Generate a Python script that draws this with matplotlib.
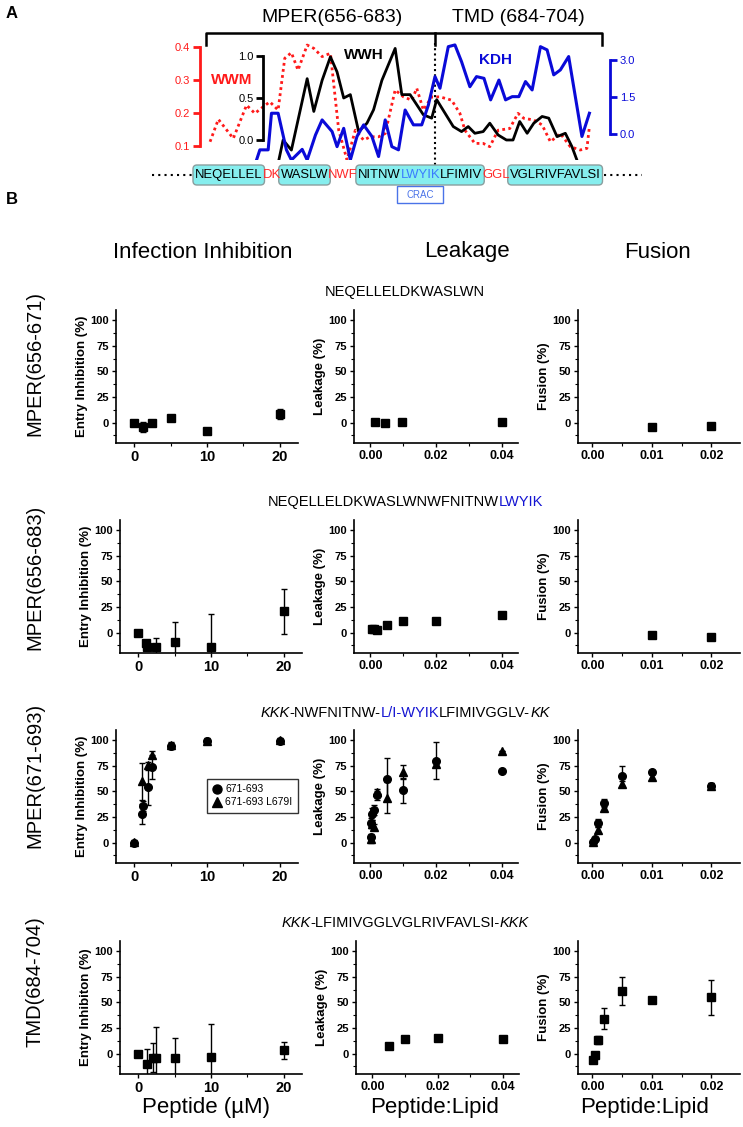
import matplotlib
matplotlib.use("Agg")
import matplotlib.pyplot as plt
from matplotlib.patches import FancyBboxPatch, Rectangle
from matplotlib.lines import Line2D
from matplotlib.ticker import MultipleLocator, FixedLocator

plt.rcParams['font.family'] = ['Liberation Sans', 'DejaVu Sans']

# ---------------- panel A : hydropathy profiles ----------------
wwm_res = [656.4, 657.4, 659.2, 660.8, 661.8, 662.8, 663.6, 664.6, 665.4, 666.2, 667.0, 668.1,
           668.9, 669.9, 670.9, 671.9, 672.9, 673.9, 674.9, 675.7, 676.7, 677.5, 678.7, 679.7,
           680.7, 681.3, 682.1, 683.1, 684.1, 685.5, 686.5, 687.1, 688.3, 689.3, 690.1, 691.1,
           692.5, 693.5, 694.2, 695.4, 696.4, 697.4, 698.6, 699.8, 701.0, 701.8, 702.1]
wwm_val = [0.112, 0.180, 0.122, 0.223, 0.198, 0.218, 0.233, 0.208, 0.365, 0.382, 0.329, 0.405,
           0.395, 0.370, 0.380, 0.147, 0.057, 0.147, 0.117, 0.127, 0.127, 0.137, 0.269, 0.248,
           0.238, 0.274, 0.208, 0.248, 0.248, 0.238, 0.198, 0.147, 0.107, 0.107, 0.097, 0.147,
           0.152, 0.198, 0.183, 0.178, 0.163, 0.112, 0.137, 0.097, 0.087, 0.092, 0.158]

wwh_res = [664.6, 665.2, 666.2, 668.1, 668.9, 669.9, 670.9, 671.7, 672.5, 673.3, 674.3, 675.3,
           676.1, 677.1, 678.7, 679.5, 680.5, 681.3, 682.1, 683.1, 683.7, 684.7, 685.7, 686.7,
           687.5, 688.3, 689.3, 690.1, 691.1, 692.1, 692.9, 693.7, 694.6, 695.4, 696.4, 697.2,
           698.2, 699.2, 700.0, 700.6]
wwh_val = [-0.28, 0.0, -0.12, 0.73, 0.34, 0.71, 0.99, 0.81, 0.50, 0.54, 0.10, 0.20,
           0.36, 0.71, 1.09, 0.54, 0.54, 0.42, 0.30, 0.26, 0.48, 0.32, 0.16, 0.10,
           0.16, 0.08, 0.10, 0.20, 0.06, 0.0, 0.0, 0.22, 0.08, 0.20, 0.28, 0.26,
           0.04, 0.08, -0.08, -0.24]

kdh_res = [662.0, 662.4, 663.4, 663.8, 664.6, 665.6, 666.2, 667.5, 668.1, 669.1, 669.9, 671.1,
           671.7, 672.5, 673.3, 674.1, 674.9, 675.9, 676.7, 677.5, 678.3, 679.1, 679.9, 680.9,
           681.9, 682.7, 683.5, 684.1, 685.1, 685.9, 686.7, 687.7, 688.5, 689.4, 690.2, 691.2,
           692.0, 692.8, 693.6, 694.4, 695.2, 696.2, 697.0, 697.8, 698.6, 699.6, 701.2, 702.1]
kdh_val = [-1.04, -0.63, -0.63, 0.85, 0.85, -0.63, -1.04, -0.61, -1.04, -0.03, 0.58, 0.11,
           -0.50, 0.24, -1.04, -0.09, 0.38, -0.09, -0.90, 0.58, -0.50, -0.63, 0.98, 0.38,
           0.38, 1.18, 2.33, 1.86, 3.54, 3.61, 2.93, 1.92, 2.33, 2.26, 1.39, 2.19,
           1.39, 1.52, 1.52, 2.13, 1.79, 3.54, 3.41, 2.40, 2.60, 3.14, -0.09, 0.85]

seq_segments = ["NEQELLEL", "DK", "WASLW", "NWF", "NITNW", "LWYIK", "LFIMIV", "GGL", "VGLRIVFAVLSI"]
seq_colors = ["black", "#ff2a2a", "black", "#ff2a2a", "black", "#3a7bff", "black", "#ff2a2a", "black"]
helix_groups = [[0], [2], [4, 5, 6], [8]]

# ---------------- panel B : assay data ----------------
r1_inf_x = [0, 1.25, 2.5, 5, 10, 20]
r1_inf_y = [0, -4, 0, 4, -8, 8]
r1_inf_e = [1, 5, 1, 2, 2, 5]
r1_leak_x = [0.0015, 0.0045, 0.0095, 0.04]
r1_leak_y = [1, 0, 0.5, 1]
r1_fus_x = [0.01, 0.02]
r1_fus_y = [-4, -3]

r2_inf_x = [0, 1.1, 1.25, 2.5, 5, 10, 20]
r2_inf_y = [0, -10, -14, -14, -9, -14, 21]
r2_inf_e = [1, 2, 2, 9, 19, 32, 22]
r2_leak_x = [0.0005, 0.001, 0.002, 0.005, 0.01, 0.02, 0.04]
r2_leak_y = [3, 3, 2, 7, 11, 11, 17]
r2_leak_e = [1, 1, 1, 1, 1, 3, 1]
r2_fus_x = [0.01, 0.02]
r2_fus_y = [-2, -4.5]

r3_inf_x_wt = [0, 1.1, 1.25, 1.9, 2.5, 5, 10, 20]
r3_inf_y_wt = [0, 28, 36, 54, 74, 94, 99, 99]
r3_inf_e_wt = [1, 10, 5, 17, 12, 3, 3, 2]
r3_inf_x_mut = [0, 1.1, 1.9, 2.5, 5, 10, 20]
r3_inf_y_mut = [1, 60, 76, 86, 95, 99, 100]
r3_inf_e_mut = [1, 18, 3, 3, 3, 2, 2]
r3_leak_x_wt = [0.0002, 0.0003, 0.0005, 0.001, 0.002, 0.005, 0.01, 0.02, 0.04]
r3_leak_y_wt = [5, 19, 28, 32, 46, 62, 51, 80, 70]
r3_leak_e_wt = [3, 5, 6, 5, 4, 21, 12, 18, 0]
r3_leak_x_mut = [0.0002, 0.0005, 0.001, 0.002, 0.005, 0.01, 0.02, 0.04]
r3_leak_y_mut = [3, 18, 15, 49, 44, 69, 77, 89]
r3_leak_e_mut = [3, 4, 3, 3, 15, 7, 3, 0]
r3_fus_x_wt = [0.0002, 0.0005, 0.001, 0.002, 0.005, 0.01, 0.02]
r3_fus_y_wt = [1, 3, 19, 39, 65, 69, 55]
r3_fus_e_wt = [1, 1, 4, 4, 10, 2, 3]
r3_fus_x_mut = [0.0002, 0.001, 0.002, 0.005, 0.01, 0.02]
r3_fus_y_mut = [1, 12, 34, 57, 64, 55]
r3_fus_e_mut = [1, 3, 3, 3, 3, 3]

r4_inf_x = [0, 1.25, 2, 2.5, 5, 10, 20]
r4_inf_y = [0, -10, -4, -4, -4, -3, 3]
r4_inf_e = [1, 14, 14, 30, 19, 32, 8]
r4_leak_x = [0.005, 0.01, 0.02, 0.04]
r4_leak_y = [7, 14.5, 15.5, 14]
r4_leak_e = [1, 1, 2, 3]
r4_fus_x = [0.0002, 0.0005, 0.001, 0.002, 0.005, 0.01, 0.02]
r4_fus_y = [-6, -1, 13, 34, 61, 52, 55]
r4_fus_e = [2, 2, 4, 10.5, 13.5, 1, 17]

row_names = ["MPER(656-671)", "MPER(656-683)", "MPER(671-693)", "TMD(684-704)"]
col_names = ["Infection Inhibition", "Leakage", "Fusion"]
legend_labels = ["671-693", "671-693 L679I"]

W, H = 743, 1127
fig = plt.figure(figsize=(W / 100, H / 100), dpi=100)


def px_ax(l, t, r, b):
    return fig.add_axes([l / W, 1 - b / H, (r - l) / W, (b - t) / H])


# ---------------- panel A axes ----------------
ax_r = px_ax(200, 38, 610, 160)
ax_k = ax_r.twinx()
ax_b = ax_r.twinx()
ax_r.set_xlim(655.19, 704.58)
ax_r.set_ylim(0.0567, 0.4264)
ax_k.set_ylim(-0.238, 1.214)
ax_b.set_ylim(-1.04, 3.89)
red, blue = "#ff1a1a", "#0a0ad8"
ax_r.plot(wwm_res, wwm_val, color=red, lw=2, ls=(0, (1, 1.2)))
ax_k.plot(wwh_res, wwh_val, color="black", lw=2)
ax_b.plot(kdh_res, kdh_val, color=blue, lw=2.2)
for a in (ax_r, ax_k, ax_b):
    a.patch.set_visible(False)
    for s in a.spines.values():
        s.set_visible(False)
    a.set_xticks([])
ax_r.spines['left'].set_visible(True)
ax_r.spines['left'].set_color(red)
ax_r.spines['left'].set_linewidth(2)
ax_r.spines['left'].set_bounds(0.1, 0.4)
ax_r.set_yticks([0.1, 0.2, 0.3, 0.4])
ax_r.tick_params(axis='y', colors=red, labelsize=8, width=2, length=5, pad=2)
ax_k.yaxis.tick_left()
ax_k.spines['left'].set_visible(True)
ax_k.spines['left'].set_position(('axes', 0.154))
ax_k.spines['left'].set_linewidth(2)
ax_k.spines['left'].set_bounds(0, 1.0)
ax_k.set_yticks([0, 0.5, 1.0])
ax_k.set_yticklabels(["0.0", "0.5", "1.0"])
ax_k.tick_params(axis='y', colors="black", labelsize=8, width=2, length=5, pad=2)
ax_b.spines['right'].set_visible(True)
ax_b.spines['right'].set_color(blue)
ax_b.spines['right'].set_linewidth(2)
ax_b.spines['right'].set_bounds(0, 3.0)
ax_b.set_yticks([0, 1.5, 3.0])
ax_b.tick_params(axis='y', colors=blue, labelsize=8, width=2, length=5, pad=2)
ax_r.plot([683.5, 683.5], [0.959, -0.066], transform=ax_r.get_xaxis_transform(),
          color="black", lw=1.5, ls=(0, (1, 1.5)), clip_on=False)

# ---------------- overlay in pixel units ----------------
ov = fig.add_axes([0, 0, 1, 1], zorder=10)
ov.set_xlim(0, W)
ov.set_ylim(H, 0)
ov.axis("off")
ov.patch.set_visible(False)
renderer = fig.canvas.get_renderer()


def mixed_text(segs, x0, y, size, center=True):
    objs = []
    total = 0
    for s, c, st in segs:
        t = ov.text(0, y, s, color=c, style=st, fontsize=size, ha='left', va='center', zorder=5)
        w = t.get_window_extent(renderer=renderer).width
        objs.append((t, w))
        total += w
    x = x0 - total / 2 if center else x0
    spans = []
    for t, w in objs:
        t.set_x(x)
        spans.append((x, x + w))
        x += w
    return spans


ov.text(12, 14, "A", fontsize=12, fontweight='bold', ha='center', va='center')
ov.text(12, 200, "B", fontsize=12, fontweight='bold', ha='center', va='center')
ov.text(332, 17, "MPER(656-683)", fontsize=14, ha='center', va='center')
ov.text(518, 17, "TMD (684-704)", fontsize=14, ha='center', va='center')
ov.plot([206, 206, 602, 602], [45, 33, 33, 45], color="black", lw=1.8)
ov.plot([435, 435], [33, 45], color="black", lw=1.8)
ov.text(232, 80, "WWM", color=red, fontsize=11, fontweight='bold', ha='center', va='center')
ov.text(364, 55, "WWH", color="black", fontsize=11, fontweight='bold', ha='center', va='center')
ov.text(496, 60, "KDH", color=blue, fontsize=11, fontweight='bold', ha='center', va='center')

spans = mixed_text([(s, c, 'normal') for s, c in zip(seq_segments, seq_colors)], 195, 175, 9.35, center=False)
for g in helix_groups:
    x0 = spans[g[0]][0] - 2
    x1 = spans[g[-1]][1] + 2
    ov.add_patch(FancyBboxPatch((x0, 165), x1 - x0, 20, boxstyle="round,pad=0,rounding_size=4",
                                fc="#86eeee", ec="#8a9e9e", lw=1, zorder=2))
ov.plot([152, spans[0][0] - 3], [175, 175], color="black", lw=1.5, ls=(0, (1, 2)))
ov.plot([spans[-1][1] + 3, 642], [175, 175], color="black", lw=1.5, ls=(0, (1, 2)))
cx = (spans[5][0] + spans[5][1]) / 2
ov.add_patch(Rectangle((cx - 23, 186), 46, 17, fill=False, ec="#4a73e8", lw=1))
ov.text(cx, 194.5, "CRAC", color="#4a73e8", fontsize=7, ha='center', va='center')

# column headers, row names, x labels
for name, x in zip(col_names, [203, 467, 658]):
    ov.text(x, 252, name, fontsize=16, ha='center', va='center')
for name, y in zip(row_names, [363, 577, 775, 982]):
    ov.text(35, y, name, fontsize=14.5, rotation=90, ha='center', va='center')
for name, x in zip(["Peptide (µM)", "Peptide:Lipid", "Peptide:Lipid"], [206, 435, 645]):
    ov.text(x, 1108, name, fontsize=16, ha='center', va='center')

dark_blue = "#1414d2"
titles = [
    [("NEQELLELDKWASLWN", "black", 'normal')],
    [("NEQELLELDKWASLWNWFNITNW", "black", 'normal'), ("LWYIK", dark_blue, 'normal')],
    [("KKK", "black", 'italic'), ("-NWFNITNW-", "black", 'normal'), ("L/I-WYIK", dark_blue, 'normal'),
     ("LFIMIVGGLV-", "black", 'normal'), ("KK", "black", 'italic')],
    [("KKK", "black", 'italic'), ("-LFIMIVGGLVGLRIVFAVLSI-", "black", 'normal'), ("KKK", "black", 'italic')],
]
for segs, y in zip(titles, [292, 502, 713, 923]):
    mixed_text(segs, 405, y, 10.5)

# ---------------- panel B axes ----------------
row_y = [(310, 443), (520, 653), (730, 863), (941, 1074)]
col_x = [[(116, 298), (354, 518), (578, 740)],
         [(120, 302), (354, 518), (578, 740)],
         [(116, 298), (354, 518), (578, 740)],
         [(120, 302), (356, 519), (578, 740)]]
xlims = [(-2.5, 22.5), (-0.005, 0.045), (-0.0024, 0.0248)]
xmaj = [[0, 10, 20], [0, 0.02, 0.04], [0, 0.01, 0.02]]
xmin = [[5, 15], [0.01, 0.03], [0.005, 0.015]]
xlabs = [["0", "10", "20"], ["0.00", "0.02", "0.04"], ["0.00", "0.01", "0.02"]]
ylabels = ["Entry Inhibition (%)", "Leakage (%)", "Fusion (%)"]

series = [
    [[(r1_inf_x, r1_inf_y, r1_inf_e, 's')],
     [(r1_leak_x, r1_leak_y, None, 's')],
     [(r1_fus_x, r1_fus_y, None, 's')]],
    [[(r2_inf_x, r2_inf_y, r2_inf_e, 's')],
     [(r2_leak_x, r2_leak_y, r2_leak_e, 's')],
     [(r2_fus_x, r2_fus_y, None, 's')]],
    [[(r3_inf_x_wt, r3_inf_y_wt, r3_inf_e_wt, 'o'), (r3_inf_x_mut, r3_inf_y_mut, r3_inf_e_mut, '^')],
     [(r3_leak_x_wt, r3_leak_y_wt, r3_leak_e_wt, 'o'), (r3_leak_x_mut, r3_leak_y_mut, r3_leak_e_mut, '^')],
     [(r3_fus_x_wt, r3_fus_y_wt, r3_fus_e_wt, 'o'), (r3_fus_x_mut, r3_fus_y_mut, r3_fus_e_mut, '^')]],
    [[(r4_inf_x, r4_inf_y, r4_inf_e, 's')],
     [(r4_leak_x, r4_leak_y, r4_leak_e, 's')],
     [(r4_fus_x, r4_fus_y, r4_fus_e, 's')]],
]

for i in range(4):
    t, b = row_y[i]
    for j in range(3):
        l, r = col_x[i][j]
        ax = px_ax(l, t, r, b)
        markers = []
        for x, y, e, m in series[i][j]:
            ms = 6 if m == '^' else 5.5
            ax.errorbar(x, y, yerr=e, fmt=m, color='black', ms=ms, capsize=2,
                        elinewidth=1, capthick=1)
            markers.append(m)
        ax.set_xlim(*xlims[j])
        ax.set_ylim(-20, 110)
        ax.spines['top'].set_visible(False)
        ax.spines['right'].set_visible(False)
        for s in ('left', 'bottom'):
            ax.spines[s].set_linewidth(1.2)
        ax.set_yticks([0, 25, 50, 75, 100])
        ax.yaxis.set_minor_locator(MultipleLocator(12.5))
        ax.set_xticks(xmaj[j])
        ax.set_xticklabels(xlabs[j])
        ax.xaxis.set_minor_locator(FixedLocator(xmin[j]))
        ax.tick_params(which='major', direction='out', length=3, width=1, pad=2)
        ax.tick_params(which='minor', direction='out', length=2, width=0.8)
        ax.tick_params(axis='y', labelsize=8)
        ax.tick_params(axis='x', labelsize=10.5 if j == 0 else 9)
        for lab in ax.get_xticklabels() + ax.get_yticklabels():
            lab.set_fontweight('bold')
        yl = ylabels[j]
        if i == 3 and j == 0:
            yl = "Entry Inhibiton (%)"
        ax.set_ylabel(yl, fontsize=9.5, fontweight='bold', labelpad=2)
        if i == 2 and j == 0:
            handles = [Line2D([], [], marker=m, color='black', ls='none', ms=6.5) for m in markers]
            ax.legend(handles, legend_labels, loc='lower left', bbox_to_anchor=(0.47, 0.34),
                      fontsize=7.5, frameon=True, fancybox=False, edgecolor='black',
                      handlelength=1, handletextpad=0.3, labelspacing=0.3, borderpad=0.5)

fig.savefig("out.png", dpi=100)
